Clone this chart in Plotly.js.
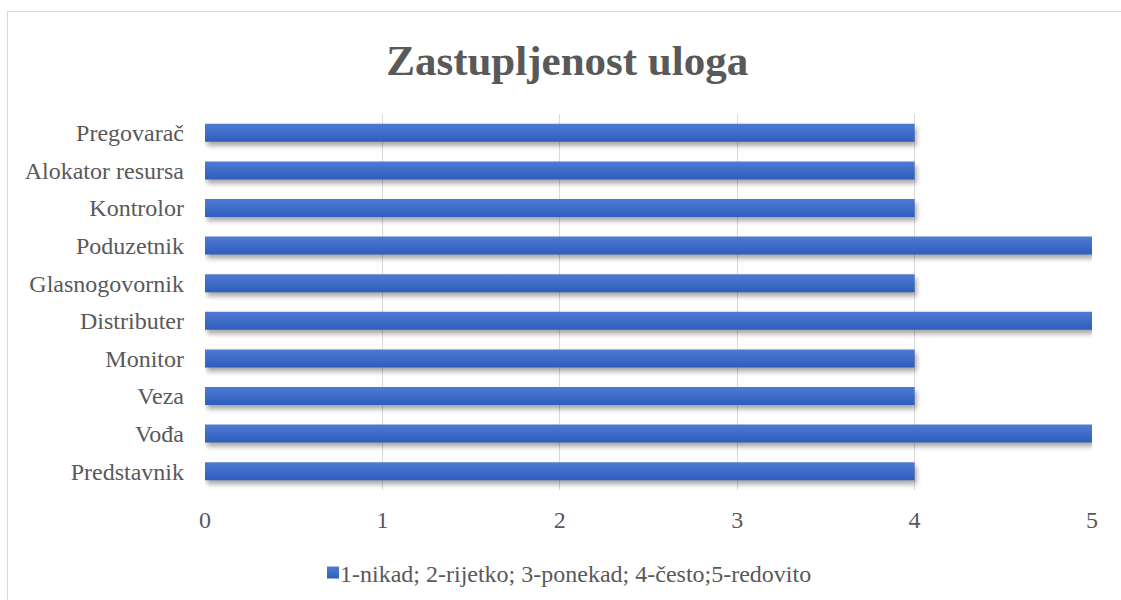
<!DOCTYPE html>
<html>
<head>
<meta charset="utf-8">
<script src="https://cdn.plot.ly/plotly-3.0.1.min.js"></script>
<style>
  html, body { margin: 0; padding: 0; background: #fff; }
  #wrap { position: relative; width: 1121px; height: 600px; overflow: hidden; }
  #frame { position: absolute; left: 7px; top: 11px; width: 1130px; height: 600px; border: 1.5px solid #d9d9d9; box-sizing: border-box; pointer-events: none; }
  #chart { position: absolute; left: 0; top: 0; width: 1121px; height: 600px; }
  #chart .bars path { fill: url(#barGrad) !important; filter: drop-shadow(2px 4px 2.5px rgba(0,0,0,0.35)); }
  #chart .legend .legendpoints path { fill: url(#barGrad) !important; }
  #chart .legend .legendpoints { transform: translateX(13px); }
</style>
</head>
<body>
<svg width="0" height="0" style="position:absolute">
  <defs>
    <linearGradient id="barGrad" x1="0" y1="0" x2="0" y2="1">
      <stop offset="0" stop-color="#4f7bd2"/>
      <stop offset="1" stop-color="#2e5dbd"/>
    </linearGradient>
  </defs>
</svg>
<div id="wrap">
  <div id="chart"></div>
  <div id="frame"></div>
</div>
<script>
const categories = ["Predstavnik", "Vođa", "Veza", "Monitor", "Distributer", "Glasnogovornik", "Poduzetnik", "Kontrolor", "Alokator resursa", "Pregovarač"];
const values = [4, 5, 4, 4, 5, 4, 5, 4, 4, 4];
const seriesName = "1-nikad; 2-rijetko; 3-ponekad; 4-često;5-redovito";
const xTicks = [0, 1, 2, 3, 4, 5];
const chartTitle = "Zastupljenost uloga";

const font = "'Liberation Serif', 'Times New Roman', serif";

Plotly.newPlot("chart", [{
  type: "bar",
  orientation: "h",
  y: categories,
  x: values,
  name: seriesName,
  marker: { color: "#3b67c6", line: { width: 0 } },
  width: 0.48,
  showlegend: true,
  hoverinfo: "x+y"
}], {
  width: 1121,
  height: 600,
  paper_bgcolor: "rgba(0,0,0,0)",
  plot_bgcolor: "rgba(0,0,0,0)",
  margin: { l: 205, r: 29, t: 114, b: 110 },
  font: { family: font, color: "#595959", size: 24 },
  title: {
    text: "<b>" + chartTitle + "</b>",
    font: { family: font, size: 43, color: "#595959" },
    x: 0.506, xref: "container", xanchor: "center",
    y: 0.9, yref: "container", yanchor: "middle"
  },
  xaxis: {
    range: [0, 5],
    tickvals: xTicks,
    ticktext: xTicks.map(String),
    showgrid: true,
    gridcolor: "#d9d9d9",
    gridwidth: 1,
    zeroline: false,
    showline: false,
    ticks: "",
    ticklabelstandoff: 13,
    tickfont: { family: font, size: 24, color: "#595959" },
    fixedrange: true
  },
  yaxis: {
    type: "category",
    categoryorder: "array",
    categoryarray: categories,
    showgrid: false,
    zeroline: false,
    showline: false,
    ticks: "",
    ticklabelstandoff: 20,
    tickfont: { family: font, size: 24, color: "#595959" },
    fixedrange: true
  },
  showlegend: true,
  legend: {
    orientation: "h",
    xref: "container", x: 300 / 1121, xanchor: "left",
    yref: "container", y: 0.045, yanchor: "middle",
    font: { family: font, size: 24, color: "#595959" },
    itemwidth: 30
  },
  bargap: 0.52
}, { displayModeBar: false });
</script>
</body>
</html>
